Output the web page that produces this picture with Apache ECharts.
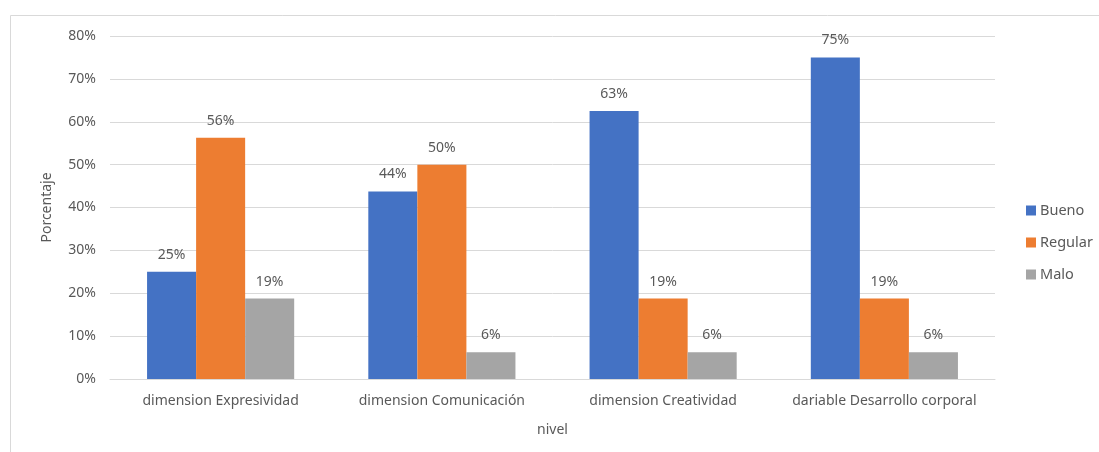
<!DOCTYPE html>
<html><head><meta charset="utf-8">
<script src="https://cdn.jsdelivr.net/npm/echarts@6/dist/echarts.min.js"></script>
<style>html,body{margin:0;padding:0;background:#fff}#c{width:1099px;height:452px}</style>
</head><body><div id="c"></div>
<script>
const categories = ['dimension Expresividad','dimension Comunicación','dimension Creatividad','dariable Desarrollo corporal'];
const bueno = [25, 43.75, 62.5, 75];
const regular = [56.25, 50, 18.75, 18.75];
const malo = [18.75, 6.25, 6.25, 6.25];
const yTicks = [0,10,20,30,40,50,60,70,80];
const seriesNames = ['Bueno','Regular','Malo'];
const colors = ['#4472C4','#ED7D31','#A5A5A5'];
const font = '"Noto Sans", sans-serif';
const chart = echarts.init(document.getElementById('c'));
const lbl = {show:true, position:'top', distance:10, color:'#595959', fontSize:14, fontFamily:font,
  formatter: p => Math.round(p.value) + '%'};
chart.setOption({
  animation:false,
  graphic:[{type:'rect', shape:{x:10.5,y:15.5,width:1200,height:600}, style:{fill:'none',stroke:'#d9d9d9',lineWidth:1}, silent:true}],
  grid:{left:110, right:104, top:36, bottom:73},
  legend:{orient:'vertical', left:1021, top:198, itemWidth:10, itemHeight:10, itemGap:17, icon:'rect',
    textStyle:{color:'#595959', fontSize:14.5, fontFamily:font, padding:[0,0,0,-1]}, data:seriesNames},
  xAxis:{type:'category', data:categories, name:'nivel', nameLocation:'middle', nameGap:44,
    nameTextStyle:{color:'#595959', fontSize:14, fontFamily:font},
    axisLine:{lineStyle:{color:'#d9d9d9'}}, axisTick:{show:false},
    axisLabel:{interval:0, color:'#595959', fontSize:14, fontFamily:font, margin:15}},
  yAxis:{type:'value', min:yTicks[0], max:yTicks[yTicks.length-1], interval:10, name:'Porcentaje', nameLocation:'middle', nameGap:56,
    nameTextStyle:{color:'#595959', fontSize:14, fontFamily:font},
    axisLine:{show:false}, axisTick:{show:false},
    splitLine:{lineStyle:{color:'#d9d9d9'}},
    axisLabel:{color:'#595959', fontSize:14, fontFamily:font, margin:14, formatter: v => v + '%'}},
  series:[
    {name:seriesNames[0], type:'bar', data:bueno, itemStyle:{color:colors[0]}, barGap:'0%', barCategoryGap:'33.5%', label:lbl},
    {name:seriesNames[1], type:'bar', data:regular, itemStyle:{color:colors[1]}, barGap:'0%', barCategoryGap:'33.5%', label:lbl},
    {name:seriesNames[2], type:'bar', data:malo, itemStyle:{color:colors[2]}, barGap:'0%', barCategoryGap:'33.5%', label:lbl}
  ]
});
</script></body></html>
